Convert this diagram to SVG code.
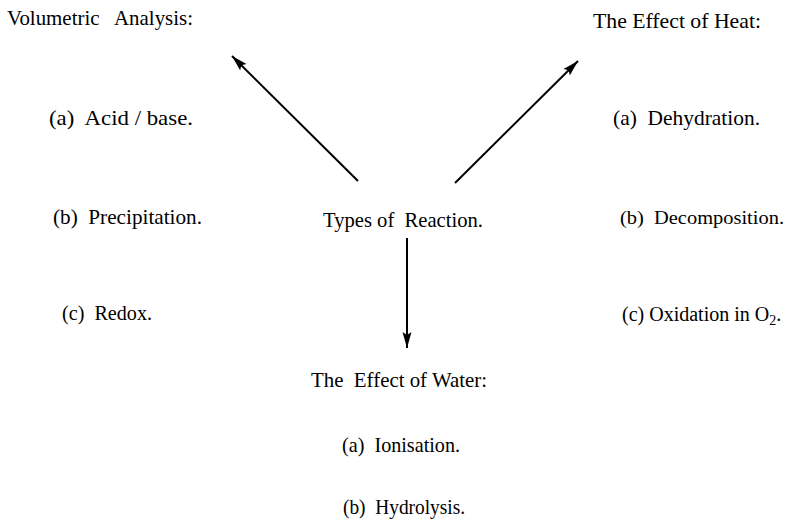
<svg xmlns="http://www.w3.org/2000/svg" width="792" height="519" viewBox="0 0 792 519">
<style>
text{font-family:"Liberation Serif","Times New Roman",serif;font-size:22px;fill:#000;white-space:pre}
text.s{font-size:19px}
text.m{font-size:20px}
.sub{font-size:14px}
.c{stroke:#000;stroke-width:2;fill:none}
</style>
<defs>
<marker id="ah" markerUnits="userSpaceOnUse" markerWidth="18" markerHeight="12" refX="16" refY="6" orient="auto">
<path d="M0,1.5 L16,6 L0,10.5 L3,6 Z" fill="#000"/>
</marker>
</defs>
<rect width="792" height="519" fill="#fff"/>
<g id="connectors">
<line class="c" x1="358" y1="181" x2="232" y2="56" marker-end="url(#ah)"/>
<line class="c" x1="455" y1="183" x2="578" y2="61" marker-end="url(#ah)"/>
<line class="c" x1="407" y1="238" x2="407" y2="348" marker-end="url(#ah)"/>
</g>
<g id="center"><text x="323" y="227" textLength="160" lengthAdjust="spacingAndGlyphs">Types of  Reaction.</text></g>
<g id="volumetric">
<text x="7" y="25" textLength="186" lengthAdjust="spacingAndGlyphs">Volumetric   Analysis:</text>
<text x="49" y="125" textLength="144" lengthAdjust="spacingAndGlyphs">(a)  Acid / base.</text>
<text x="53" y="224" textLength="149" lengthAdjust="spacingAndGlyphs">(b)  Precipitation.</text>
<text x="62" y="320" textLength="90" lengthAdjust="spacingAndGlyphs">(c)  Redox.</text>
</g>
<g id="heat">
<text x="593" y="28" textLength="168" lengthAdjust="spacingAndGlyphs">The Effect of Heat:</text>
<text x="613" y="125" textLength="147" lengthAdjust="spacingAndGlyphs">(a)  Dehydration.</text>
<text class="s" x="620" y="224" textLength="164" lengthAdjust="spacingAndGlyphs">(b)  Decomposition.</text>
<text class="m" x="622" y="321">(c) Oxidation in O<tspan class="sub" dy="4">2</tspan><tspan dy="-4">.</tspan></text>
</g>
<g id="water">
<text x="311" y="387" textLength="176" lengthAdjust="spacingAndGlyphs">The  Effect of Water:</text>
<text x="342" y="452" textLength="118" lengthAdjust="spacingAndGlyphs">(a)  Ionisation.</text>
<text x="343" y="514" textLength="122" lengthAdjust="spacingAndGlyphs">(b)  Hydrolysis.</text>
</g>
</svg>
